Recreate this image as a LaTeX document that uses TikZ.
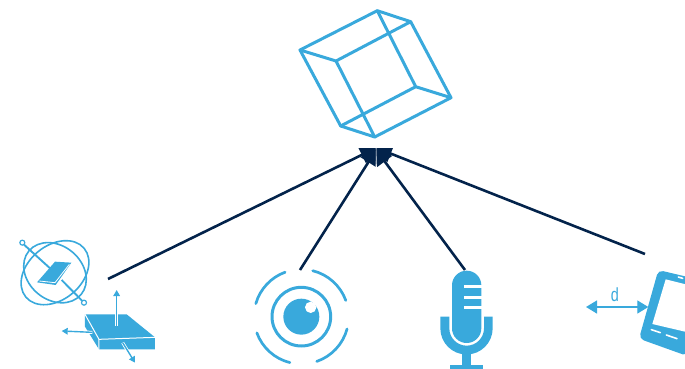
\documentclass[tikz,border=0pt]{standalone}
\usepackage{fontspec}
\setsansfont{Liberation Sans}
\usetikzlibrary{arrows.meta}
\definecolor{stblue}{HTML}{39A9DC}
\definecolor{stnavy}{HTML}{03234B}
\tikzset{
  cubeedge/.style={draw=stblue,line width=3pt,line join=round,line cap=round},
  link/.style={draw=stnavy,line width=2.6pt,-{Triangle[length=18pt,width=18pt]}},
  ico/.style={fill=stblue,draw=none},
  ring/.style={draw=stblue,line width=2.7pt,line cap=round},
  whitearrow/.style={draw=white,line width=3pt},
  smallarrow/.style={draw=stblue,line width=1.4pt,-{Triangle[length=6pt,width=6.5pt]}},
  gyro/.style={draw=stblue,line width=1.6pt},
  pill/.style={draw=white,line width=1.6pt,line cap=round},
  zoomA/.style={shift={(0,230)},scale=0.33333},
  zoomB/.style={shift={(240,260)},scale=0.33333},
  zoomC/.style={shift={(570,250)},scale=0.33333},
}
\begin{document}
\begin{tikzpicture}[x=1pt,y=-1pt]
\useasboundingbox (0,0) rectangle (685,369);
% cube
\coordinate (ca) at (300,50);
\coordinate (cb) at (377.3,10.7);
\coordinate (cc) at (410.7,21.7);
\coordinate (cd) at (451,97.7);
\coordinate (ce) at (374.7,137);
\coordinate (cf) at (340.7,126);
\coordinate (cg) at (336,61);
\coordinate (ch) at (415.7,86.7);
\draw[cubeedge] (ca)--(cb)--(cc)--(cd)--(ce)--(cf)--cycle;
\draw[cubeedge] (ca)--(cg)--(ce) (cg)--(cc) (cb)--(ch)--(cd) (ch)--(cf);
% connectors
\coordinate (s1) at (108,279);
\coordinate (s2) at (300,270);
\coordinate (s3) at (465,270);
\coordinate (s4) at (645,254);
\coordinate (tl) at (378,147);
\coordinate (tr) at (374,147);
\begin{scope}
\clip (0,148) rectangle (375.6,369);
\draw[link] (s1)--(tl);
\draw[link] (s2)--(tl);
\end{scope}
\begin{scope}
\clip (376.6,148) rectangle (685,369);
\draw[link] (s3)--(tr);
\draw[link] (s4)--(tr);
\end{scope}
% gyroscope
\coordinate (gc) at (55,272.7);
\draw[gyro,rotate around={40:(gc)}] (gc) ellipse (38 and 27);
\draw[gyro,rotate around={-40:(gc)}] (gc) ellipse (34 and 27);
\begin{scope}[zoomA]
\path[ico] (165,95)--(214,98)--(167,165)--(111,157)--cycle;
\draw[draw=white,line width=.8pt] (118,153)--(165,158)--(208,103);
\draw[draw=stblue,line width=1.9pt] (72,44)--(158,122) (185,150)--(246,212);
\draw[draw=stblue,line width=1.2pt] (67,38) circle (7.5) (252,218) circle (7.5);
% plate
\path[ico] (255,253)--(380,253)--(465,322)--(465,358)--(297,358)--(255,290)--cycle;
\draw[draw=white,line width=1pt] (255,253)--(297,328)--(465,322) (297,328)--(297,358);
\draw[whitearrow] (350,288)--(350,215);
\draw[smallarrow] (350,288)--(350,180);
\draw[whitearrow] (277,307)--(240,306);
\draw[smallarrow] (277,307)--(185,303);
\draw[whitearrow] (368,338)--(385,366);
\draw[smallarrow] (368,338)--(405,398);
\end{scope}
% eye
\begin{scope}[zoomB]
\coordinate (ec) at (184,170);
\draw[ring] (ec) ++(196:142) arc (196:250:142);
\draw[ring] (ec) ++(284:142) arc (284:340:142);
\draw[ring] (ec) ++(160:142) arc (160:104:142);
\draw[ring] (ec) ++(71:142) arc (71:15:142);
\draw[draw=stblue,line width=3pt] (ec) circle (88);
\fill[stblue] (ec) circle (54);
\fill[white] (212,142) circle (17);
% microphone
\path[ico] (636,76) arc (180:360:44) -- (724,205) arc (0:180:44)--cycle;
\draw[draw=white,line width=2.4pt] (672,80)--(726,80) (672,112)--(726,112) (672,142)--(726,142);
\path[ico] (601,170)--(628,170)--(628,205) arc (180:0:52 and 52) -- (732,170)--(758,170)--(758,205)
  arc (0:180:78.5 and 78.5) --cycle;
\path[ico] (666,280) rectangle (694,316);
\path[ico] (630,315) rectangle (730,330);
\end{scope}
% phone
\begin{scope}
\clip (570,250) rectangle (685,369);
\begin{scope}[zoomC]
\path[ico,rounded corners=5pt] (265,60)--(400,92)--(352,318)--(207,266)--cycle;
\fill[white] (287,88)--(375,110)--(345,245)--(247,222)--cycle;
\draw[pill] (244,239)--(271,248) (289,255)--(321,266) (325,81)--(338,85);
\end{scope}
\end{scope}
% distance arrow
\begin{scope}[zoomC]
\coordinate (dl) at (48,171);
\coordinate (dr) at (235,171);
\draw[draw=stblue,line width=1.3pt,{Triangle[length=11pt,width=13pt]}-{Triangle[length=11pt,width=13pt]}] (dl)--(dr);
\end{scope}
\node[text=stblue,font=\sffamily\fontsize{19}{19}\selectfont,xscale=.76,inner sep=0pt] (dlabel) at (615,295) {d};
\end{tikzpicture}
\end{document}
